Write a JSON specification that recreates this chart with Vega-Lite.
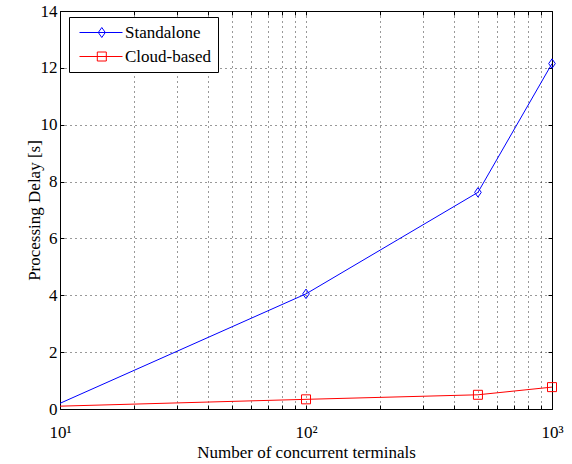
{
  "$schema": "https://vega.github.io/schema/vega-lite/v6.json",
  "width": 492,
  "height": 398,
  "autosize": {"type": "none"},
  "padding": {"left": 60, "top": 11, "right": 20, "bottom": 55},
  "background": "white",
  "config": {
    "font": "Liberation Serif",
    "view": {"stroke": "black", "strokeWidth": 1},
    "axis": {
      "labelFont": "Liberation Serif",
      "titleFont": "Liberation Serif",
      "labelFontSize": 17,
      "titleFontSize": 17,
      "titleFontWeight": "normal",
      "labelColor": "black",
      "titleColor": "black",
      "domainColor": "black",
      "tickColor": "black",
      "gridColor": "black",
      "gridDash": [1, 4],
      "gridOpacity": 0.8
    }
  },
  "data": {
    "values": [
      {"n": 10, "series": "Standalone", "delay": 0.2},
      {"n": 100, "series": "Standalone", "delay": 4.05},
      {"n": 500, "series": "Standalone", "delay": 7.62},
      {"n": 1000, "series": "Standalone", "delay": 12.15},
      {"n": 10, "series": "Cloud-based", "delay": 0.1},
      {"n": 100, "series": "Cloud-based", "delay": 0.34},
      {"n": 500, "series": "Cloud-based", "delay": 0.5},
      {"n": 1000, "series": "Cloud-based", "delay": 0.77}
    ]
  },
  "layer": [
    {
      "mark": {"type": "line", "strokeWidth": 1, "clip": true},
      "encoding": {
        "x": {
          "field": "n", "type": "quantitative",
          "scale": {"type": "log", "domain": [10, 1000], "nice": false},
          "axis": {
            "title": "Number of concurrent terminals",
            "values": [10, 20, 30, 40, 50, 60, 70, 80, 90, 100, 200, 300, 400, 500, 600, 700, 800, 900, 1000],
            "labelExpr": "datum.value == 10 ? '10¹' : datum.value == 100 ? '10²' : datum.value == 1000 ? '10³' : ''",
            "grid": true,
            "tickSize": -4,
            "labelPadding": 19,
            "labelFlush": false,
            "labelOverlap": false,
            "titlePadding": 4
          }
        },
        "y": {
          "field": "delay", "type": "quantitative",
          "scale": {"domain": [0, 14], "nice": false},
          "axis": {
            "title": "Processing Delay [s]",
            "values": [0, 2, 4, 6, 8, 10, 12, 14],
            "grid": true,
            "tickSize": -4,
            "labelPadding": 7,
            "titlePadding": -3
          }
        },
        "color": {
          "field": "series", "type": "nominal",
          "scale": {"domain": ["Standalone", "Cloud-based"], "range": ["#0000ff", "#ff0000"]},
          "legend": {
            "title": null,
            "orient": "none",
            "legendX": 9,
            "legendY": 6,
            "strokeColor": "black",
            "fillColor": "white",
            "padding": 7,
            "labelFont": "Liberation Serif",
            "labelFontSize": 17,
            "labelColor": "black",
            "labelOffset": 32,
            "rowPadding": 6,
            "symbolSize": 100,
            "symbolStrokeWidth": 1,
            "encode": {
              "symbols": {
                "update": {
                  "shape": {"signal": "datum.value === 'Standalone' ? 'M-1,0L7.6,0M3.46,-1L4.16,0L3.46,1L2.76,0Z' : 'M-1,0L7.6,0M2.56,-0.9L4.36,-0.9L4.36,0.9L2.56,0.9Z'"},
                  "stroke": {"signal": "datum.value === 'Standalone' ? '#0000ff' : '#ff0000'"},
                  "fill": {"value": "transparent"},
                  "strokeWidth": {"value": 1},
                  "opacity": {"value": 1}
                }
              }
            }
          }
        }
      }
    },
    {
      "transform": [{"filter": "datum.n > 10 && datum.series === 'Standalone'"}],
      "mark": {"type": "point", "filled": false, "strokeWidth": 1, "opacity": 1, "color": "#0000ff", "shape": "M0,-1L0.7,0L0,1L-0.7,0Z", "size": 90, "clip": false},
      "encoding": {
        "x": {
          "field": "n", "type": "quantitative",
          "scale": {"type": "log", "domain": [10, 1000], "nice": false},
          "axis": {
            "orient": "top", "title": null, "labels": false, "grid": false, "domain": false,
            "values": [10, 20, 30, 40, 50, 60, 70, 80, 90, 100, 200, 300, 400, 500, 600, 700, 800, 900, 1000],
            "tickSize": -4
          }
        },
        "y": {
          "field": "delay", "type": "quantitative",
          "scale": {"domain": [0, 14], "nice": false},
          "axis": {
            "orient": "right", "title": null, "labels": false, "grid": false, "domain": false,
            "values": [0, 2, 4, 6, 8, 10, 12, 14],
            "tickSize": -4
          }
        }
      }
    },
    {
      "transform": [{"filter": "datum.n > 10 && datum.series === 'Cloud-based'"}],
      "mark": {"type": "point", "filled": false, "strokeWidth": 1, "opacity": 1, "color": "#ff0000", "shape": "square", "size": 81, "clip": false},
      "encoding": {
        "x": {"field": "n", "type": "quantitative", "scale": {"type": "log", "domain": [10, 1000], "nice": false}, "axis": null},
        "y": {"field": "delay", "type": "quantitative", "scale": {"domain": [0, 14], "nice": false}, "axis": null}
      }
    }
  ],
  "resolve": {"axis": {"x": "independent", "y": "independent"}}
}
